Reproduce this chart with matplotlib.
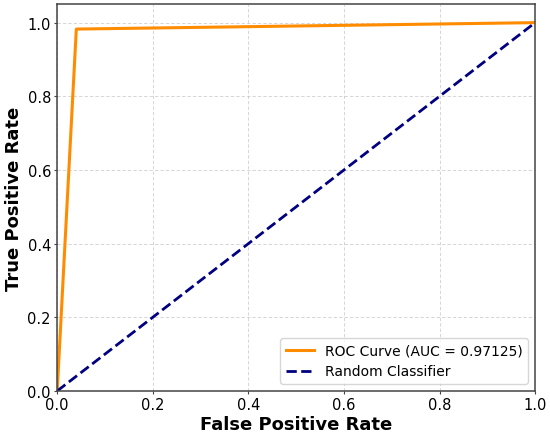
import matplotlib
matplotlib.use("Agg")
import matplotlib.pyplot as plt

fpr = [0.0, 0.04, 1.0]
tpr = [0.0, 0.9825, 1.0]
roc_auc = 0.97125
diag = [0.0, 1.0]

fig = plt.figure(figsize=(5.5, 4.35), dpi=100)
ax = fig.add_axes([0.104, 0.099, 0.869, 0.889])

ax.plot(fpr, tpr, color="darkorange", lw=2.2, label=f"ROC Curve (AUC = {roc_auc:.5f})")
ax.plot(diag, diag, color="navy", lw=2, linestyle="--", label="Random Classifier")

ax.set_xlim(0.0, 1.0)
ax.set_ylim(0.0, 1.05)
ax.set_xlabel("False Positive Rate", fontsize=13, fontweight="bold", labelpad=2)
ax.set_ylabel("True Positive Rate", fontsize=13, fontweight="bold", labelpad=3)
ax.tick_params(labelsize=10.5, length=2.5, pad=2, color="#444444")
for s in ax.spines.values():
    s.set_color("#444444")
    s.set_linewidth(1.1)
ax.grid(True, linestyle=(0, (4, 2.5)), linewidth=0.6, color="#b0b0b0", alpha=0.6)
ax.legend(loc="lower right", fontsize=10)

fig.savefig("out.png", dpi=100)
